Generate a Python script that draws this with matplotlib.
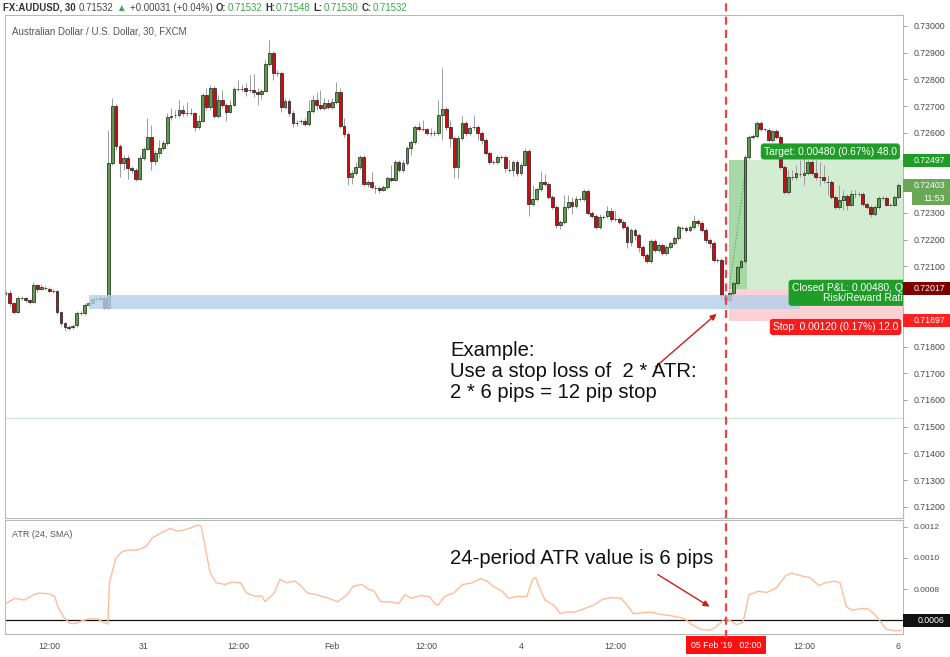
import matplotlib
matplotlib.use("Agg")
import matplotlib.pyplot as plt
import numpy as np
from matplotlib.lines import Line2D
from matplotlib.patches import Rectangle
from matplotlib.transforms import blended_transform_factory

plt.rcParams["font.family"] = ["Liberation Sans", "DejaVu Sans"]

W, H = 950, 657

# AUD/USD 30-minute candles, prices in points (1e-5)
opens = [
    72001, 72001, 71963, 71929, 71982, 71982, 71974, 71967, 72031, 72016,
    72019, 72016, 72008, 72008, 71929, 71888, 71873, 71873, 71881, 71926,
    71926, 71956, 71963, 71978, 71978, 71982, 71944, 72487, 72701, 72551,
    72487, 72506, 72468, 72461, 72427, 72506, 72540, 72585, 72495, 72525,
    72543, 72562, 72659, 72667, 72667, 72686, 72674, 72674, 72674, 72622,
    72644, 72742, 72697, 72768, 72663, 72723, 72704, 72678, 72704, 72764,
    72764, 72768, 72760, 72760, 72753, 72745, 72757, 72858, 72899, 72824,
    72824, 72697, 72719, 72674, 72637, 72644, 72644, 72633, 72682, 72723,
    72704, 72693, 72712, 72697, 72716, 72753, 72626, 72596, 72435, 72450,
    72472, 72510, 72409, 72416, 72394, 72394, 72386, 72397, 72431, 72424,
    72491, 72461, 72487, 72543, 72566, 72622, 72614, 72614, 72600, 72600,
    72600, 72667, 72689, 72622, 72581, 72472, 72581, 72637, 72600, 72622,
    72622, 72600, 72573, 72525, 72491, 72491, 72510, 72510, 72461, 72461,
    72491, 72450, 72480, 72532, 72334, 72352, 72390, 72416, 72409, 72360,
    72323, 72255, 72266, 72323, 72341, 72326, 72352, 72352, 72382, 72300,
    72289, 72248, 72285, 72289, 72308, 72278, 72278, 72266, 72248, 72191,
    72236, 72218, 72173, 72143, 72120, 72195, 72162, 72180, 72150, 72173,
    72188, 72206, 72244, 72244, 72236, 72248, 72270, 72263, 72236, 72199,
    72188, 72124, 72124, 71993, 71974, 72001, 72038, 72098, 72120, 72510,
    72585, 72588, 72637, 72614, 72611, 72573, 72607, 72585, 72472, 72379,
    72435, 72435, 72446, 72442, 72450, 72491, 72450, 72435, 72435, 72416,
    72416, 72360, 72323, 72349, 72364, 72330, 72371, 72371, 72371, 72334,
    72323, 72296, 72323, 72356, 72356, 72330, 72330, 72360,
]
highs = [
    72008, 72012, 71967, 71989, 71989, 71986, 71978, 72042, 72034, 72034,
    72027, 72023, 72016, 72012, 71933, 71892, 71881, 71884, 71933, 71933,
    71963, 71971, 71978, 71986, 71993, 71989, 72611, 72730, 72708, 72558,
    72517, 72517, 72476, 72468, 72517, 72547, 72656, 72629, 72536, 72573,
    72573, 72674, 72693, 72686, 72723, 72704, 72716, 72693, 72678, 72667,
    72749, 72768, 72779, 72775, 72742, 72760, 72712, 72723, 72772, 72798,
    72779, 72787, 72817, 72820, 72768, 72764, 72873, 72948, 72906, 72835,
    72832, 72730, 72727, 72686, 72648, 72652, 72656, 72723, 72742, 72753,
    72760, 72730, 72727, 72730, 72790, 72768, 72656, 72603, 72461, 72491,
    72517, 72517, 72424, 72454, 72405, 72401, 72405, 72439, 72480, 72498,
    72498, 72498, 72551, 72573, 72629, 72641, 72648, 72618, 72618, 72611,
    72723, 72843, 72697, 72648, 72588, 72592, 72663, 72644, 72626, 72667,
    72629, 72607, 72581, 72532, 72498, 72517, 72517, 72517, 72498, 72498,
    72498, 72487, 72543, 72540, 72405, 72394, 72457, 72446, 72416, 72367,
    72330, 72274, 72367, 72367, 72360, 72364, 72360, 72390, 72390, 72308,
    72296, 72296, 72293, 72326, 72319, 72311, 72285, 72274, 72255, 72244,
    72244, 72225, 72180, 72150, 72203, 72203, 72188, 72188, 72180, 72195,
    72214, 72255, 72251, 72251, 72255, 72293, 72278, 72270, 72244, 72206,
    72195, 72132, 72132, 72001, 72012, 72046, 72105, 72128, 72517, 72592,
    72596, 72644, 72644, 72618, 72618, 72611, 72614, 72592, 72480, 72461,
    72461, 72480, 72498, 72506, 72498, 72498, 72498, 72491, 72480, 72442,
    72424, 72367, 72405, 72386, 72371, 72386, 72386, 72379, 72379, 72341,
    72330, 72330, 72364, 72364, 72364, 72337, 72367, 72412,
]
lows = [
    71993, 71952, 71922, 71926, 71974, 71967, 71959, 71963, 72004, 72012,
    72012, 72004, 72001, 71922, 71877, 71862, 71862, 71866, 71873, 71918,
    71918, 71952, 71959, 71971, 71971, 71941, 71941, 72480, 72536, 72435,
    72461, 72427, 72450, 72420, 72424, 72498, 72536, 72461, 72480, 72506,
    72536, 72555, 72648, 72656, 72659, 72663, 72663, 72667, 72607, 72614,
    72641, 72686, 72686, 72656, 72656, 72693, 72644, 72674, 72701, 72757,
    72757, 72738, 72753, 72734, 72704, 72727, 72753, 72850, 72798, 72813,
    72678, 72689, 72663, 72622, 72626, 72633, 72626, 72626, 72674, 72686,
    72686, 72686, 72689, 72689, 72708, 72618, 72585, 72405, 72409, 72442,
    72465, 72401, 72397, 72390, 72375, 72375, 72382, 72390, 72416, 72420,
    72454, 72454, 72480, 72517, 72558, 72607, 72607, 72592, 72588, 72588,
    72592, 72573, 72611, 72547, 72431, 72431, 72573, 72588, 72592, 72611,
    72573, 72558, 72517, 72483, 72483, 72483, 72502, 72454, 72454, 72439,
    72439, 72442, 72476, 72289, 72326, 72345, 72382, 72401, 72352, 72315,
    72244, 72240, 72259, 72315, 72296, 72319, 72345, 72345, 72293, 72281,
    72240, 72240, 72278, 72281, 72266, 72270, 72259, 72240, 72169, 72176,
    72199, 72154, 72132, 72113, 72113, 72154, 72154, 72143, 72143, 72165,
    72180, 72199, 72236, 72229, 72229, 72240, 72251, 72229, 72188, 72169,
    72117, 72117, 71974, 71944, 71967, 71993, 72031, 72090, 72113, 72502,
    72577, 72581, 72607, 72607, 72566, 72566, 72577, 72465, 72371, 72371,
    72424, 72424, 72435, 72405, 72442, 72442, 72424, 72401, 72412, 72367,
    72352, 72315, 72315, 72311, 72311, 72326, 72356, 72364, 72326, 72315,
    72285, 72289, 72315, 72349, 72326, 72326, 72326, 72352,
]
closes = [
    72001, 71963, 71929, 71982, 71982, 71974, 71967, 72031, 72016, 72023,
    72019, 72008, 72008, 71929, 71888, 71873, 71870, 71877, 71926, 71926,
    71956, 71963, 71978, 71978, 71982, 71944, 72487, 72701, 72551, 72487,
    72506, 72468, 72461, 72427, 72506, 72540, 72585, 72495, 72525, 72543,
    72562, 72659, 72663, 72667, 72686, 72674, 72674, 72674, 72622, 72644,
    72742, 72697, 72768, 72663, 72723, 72704, 72678, 72704, 72764, 72764,
    72764, 72757, 72760, 72753, 72745, 72757, 72858, 72899, 72824, 72824,
    72697, 72719, 72674, 72637, 72637, 72644, 72633, 72682, 72723, 72704,
    72693, 72712, 72697, 72716, 72753, 72626, 72596, 72435, 72450, 72472,
    72510, 72409, 72416, 72397, 72394, 72386, 72397, 72431, 72424, 72491,
    72461, 72487, 72543, 72566, 72622, 72614, 72614, 72600, 72600, 72600,
    72667, 72689, 72622, 72581, 72472, 72581, 72637, 72600, 72618, 72622,
    72600, 72573, 72525, 72491, 72491, 72510, 72510, 72468, 72461, 72491,
    72450, 72480, 72532, 72334, 72352, 72390, 72416, 72409, 72360, 72323,
    72255, 72266, 72323, 72341, 72326, 72352, 72352, 72382, 72300, 72289,
    72248, 72285, 72285, 72308, 72278, 72278, 72266, 72248, 72191, 72236,
    72218, 72173, 72143, 72120, 72195, 72162, 72180, 72150, 72173, 72188,
    72206, 72248, 72244, 72236, 72248, 72270, 72263, 72236, 72199, 72188,
    72124, 72124, 71993, 71974, 72001, 72038, 72098, 72120, 72510, 72585,
    72588, 72637, 72614, 72614, 72573, 72607, 72585, 72472, 72379, 72435,
    72435, 72450, 72446, 72450, 72491, 72450, 72435, 72435, 72424, 72416,
    72360, 72323, 72349, 72364, 72330, 72371, 72371, 72371, 72334, 72323,
    72296, 72323, 72356, 72356, 72330, 72330, 72360, 72403,
]

# ATR(24, SMA) readings: candle position, value
atr_idx = [
    0, 2.3, 4.7, 7.0, 8.5, 10.9, 12.4, 13.2, 14.7, 16.3, 17.8, 19.4, 21.0, 23.3,
    24.8, 25.9, 26.3, 27.9, 29.5, 31.0, 33.3, 35.6, 37.2, 39.5, 41.8, 43.4, 44.9,
    47.3, 48.8, 49.6, 50.4, 51.9, 53.5, 55.8, 57.3, 59.7, 61.2, 63.5, 65.1, 65.9,
    68.2, 69.7, 71.3, 73.6, 75.1, 76.7, 79.0, 82.1, 84.4, 86.8, 88.3, 90.6, 92.2,
    93.7, 95.3, 97.6, 99.9, 101.5, 103.0, 105.4, 107.7, 109.2, 110.0, 111.5,
    113.9, 116.2, 118.5, 120.8, 122.4, 123.9, 126.3, 127.8, 130.1, 132.5, 134.0,
    134.8, 135.6, 137.1, 139.4, 141.0, 142.5, 144.8, 147.2, 149.5, 151.8, 154.1,
    156.5, 158.0, 159.6, 161.9, 164.2, 166.5, 168.9, 171.2, 172.7, 174.3, 176.6,
    178.9, 180.5, 182.8, 184.3, 185.9, 187.5, 189.0, 191.3, 193.6, 196.0, 198.3,
    199.8, 202.2, 204.5, 206.8, 208.4, 210.7, 212.2, 213.8, 215.3, 217.6, 219.2,
    220.8, 222.3, 223.9, 226.2, 227.7,
]
atr_val = [
    0.000707, 0.000740, 0.000729, 0.000763, 0.000774, 0.000769, 0.000752,
    0.000685, 0.000618, 0.000578, 0.000578, 0.000596, 0.000607, 0.000607,
    0.000585, 0.000574, 0.000840, 0.000996, 0.001040, 0.001051, 0.001051,
    0.001073, 0.001129, 0.001162, 0.001191, 0.001173, 0.001178, 0.001196,
    0.001213, 0.001207, 0.001107, 0.000907, 0.000840, 0.000829, 0.000845,
    0.000840, 0.000774, 0.000752, 0.000756, 0.000718, 0.000774, 0.000863,
    0.000840, 0.000851, 0.000818, 0.000774, 0.000763, 0.000740, 0.000718,
    0.000763, 0.000818, 0.000829, 0.000800, 0.000785, 0.000718, 0.000718,
    0.000707, 0.000763, 0.000740, 0.000758, 0.000752, 0.000703, 0.000696,
    0.000752, 0.000774, 0.000829, 0.000840, 0.000867, 0.000851, 0.000818,
    0.000785, 0.000740, 0.000752, 0.000752, 0.000863, 0.000874, 0.000818,
    0.000729, 0.000696, 0.000641, 0.000652, 0.000652, 0.000674, 0.000696,
    0.000734, 0.000745, 0.000740, 0.000696, 0.000641, 0.000647, 0.000652,
    0.000636, 0.000629, 0.000618, 0.000607, 0.000574, 0.000541, 0.000534,
    0.000552, 0.000607, 0.000596, 0.000570, 0.000585, 0.000763, 0.000785,
    0.000778, 0.000807, 0.000885, 0.000903, 0.000885, 0.000874, 0.000823,
    0.000840, 0.000851, 0.000840, 0.000685, 0.000663, 0.000674, 0.000674,
    0.000641, 0.000596, 0.000541, 0.000530, 0.000534,
]

# time axis (candle positions of the date labels)
tick_idx = [11, 35, 59, 83, 107, 131, 155, 203, 227]
tick_lab = ["12:00", "31", "12:00", "Feb", "12:00", "4", "12:00", "12:00", "6"]
marker_idx = 183.2
marker_lab = "05 Feb '19   02:00"

# price scale labels (those under coloured tags are left blank)
price_ticks = [0.712, 0.713, 0.714, 0.715, 0.716, 0.717, 0.718, 0.719, 0.720, 0.721,
               0.722, 0.723, 0.724, 0.725, 0.726, 0.727, 0.728, 0.729, 0.730]
hidden_ticks = [0.719, 0.720, 0.724, 0.725]

# position tool / levels
entry_idx = 184
entry, target, stop = 0.72017, 0.72497, 0.71897
last_price = 0.72403
atr_line = 0.0006
zone_idx = (21, 202)
zone_lo, zone_hi = 0.71941, 0.71993
header_price = 0.71532

header = [
    ("FX:AUDUSD, 30", "#333333", "bold", 3), ("0.71532", "#444444", "normal", 3),
    ("\u25b2", "#3aa845", "normal", 4), ("+0.00031 (+0.04%)", "#444444", "normal", 3),
    ("O:", "#333333", "bold", 1), ("0.71532", "#3aa845", "normal", 3),
    ("H:", "#333333", "bold", 1), ("0.71548", "#3aa845", "normal", 3),
    ("L:", "#333333", "bold", 1), ("0.71530", "#3aa845", "normal", 3),
    ("C:", "#333333", "bold", 1), ("0.71532", "#3aa845", "normal", 0),
]

GREEN = "#5a9e4a"
RED = "#d3090f"
TAG_GREEN = "#1f9d28"
GRID_GRAY = "#b9b9b9"
TXT = "#4a4a4a"

o = np.array(opens) / 1e5
hi = np.array(highs) / 1e5
lo = np.array(lows) / 1e5
c = np.array(closes) / 1e5
idx = np.arange(len(c))

fig = plt.figure(figsize=(W / 100, H / 100), dpi=100)


def rect(x0, y0, x1, y1):
    return [x0 / W, 1 - y1 / H, (x1 - x0) / W, (y1 - y0) / H]


ax = fig.add_axes(rect(5, 15, 903, 518))
atr_ax = fig.add_axes(rect(5, 520, 903, 634), sharex=ax)
ax.set_xlim(-0.25, 228.2)
ax.set_ylim(0.71158, 0.73041)
atr_ax.set_ylim(0.00051, 0.001245)

for a in (ax, atr_ax):
    for s in a.spines.values():
        s.set_color(GRID_GRAY)
        s.set_linewidth(0.8)

# candles
up = c >= o
ax.vlines(idx, lo, hi, color="#9b9b9b", lw=0.7, zorder=2)
ax.bar(idx, c - o, bottom=o, width=0.72, color=np.where(up, GREEN, RED),
       edgecolor="#1b1b1b", linewidth=0.5, zorder=3)

# position tool
ax.add_patch(Rectangle((entry_idx, entry), 240 - entry_idx, target - entry,
                       fc="#d2edd2", ec="none", zorder=1))
ax.add_patch(Rectangle((entry_idx, entry), 4.5, target - entry,
                       fc="#a6d9a6", ec="none", zorder=1.1))
ax.add_patch(Rectangle((entry_idx, stop), 240 - entry_idx, entry - stop,
                       fc="#fcd0d4", ec="none", zorder=1))
ax.plot([entry_idx, entry_idx + 4.5], [entry, target], ls=":", color="#6f8f6f",
        lw=0.8, zorder=1.2)
# support zone
ax.add_patch(Rectangle((zone_idx[0], zone_lo), zone_idx[1] - zone_idx[0],
                       zone_hi - zone_lo, fc="#b3cfec", ec="none", alpha=0.8, zorder=4))
ax.axhline(header_price, color="#cde8cd", lw=0.9, zorder=1)

box = dict(boxstyle="round,pad=0.3,rounding_size=0.3", ec="none")
lab_kw = dict(color="white", fontsize=7.4, zorder=6, clip_on=True)
edge_tr = blended_transform_factory(ax.transAxes, ax.transData)
ax.text(192.8, 0.72530, "Target: 0.00480 (0.67%) 48.0", va="center",
        bbox=dict(fc=TAG_GREEN, **box), **lab_kw)
ax.text(0.9995, 0.72001, "Closed P&L: 0.00480, Q\nRisk/Reward Rati", transform=edge_tr,
        ha="right", va="center", multialignment="right", linespacing=1.0,
        bbox=dict(fc=TAG_GREEN, **box), **lab_kw)
ax.text(195.1, 0.71873, "Stop: 0.00120 (0.17%) 12.0", va="center",
        bbox=dict(fc="#f41c1c", **box), **lab_kw)

# annotations
ann = dict(fontsize=14.6, color="#111111", va="baseline", zorder=7)
ax.text(113, 0.71765, "Example:", **ann)
ax.text(113, 0.71686, "Use a stop loss of  2 * ATR:", **ann)
ax.text(113, 0.71608, "2 * 6 pips = 12 pip stop", **ann)
arrow = dict(arrowstyle="-|>", color="#cc1d1d", lw=1.0, mutation_scale=9)
ax.annotate("", xy=(181.3, 0.71929), xytext=(164.7, 0.71717), arrowprops=arrow)

atr_ax.plot(atr_idx, atr_val, color="#ffbd97", lw=1.0, zorder=3)
atr_ax.axhline(atr_line, color="#111111", lw=0.9, zorder=2)
atr_ax.text(113, 0.000961, "24-period ATR value is 6 pips", **ann)
atr_ax.annotate("", xy=(179.6, 0.000677), xytext=(165.2, 0.000903), arrowprops=arrow)
atr_ax.text(0.008, 0.87, "ATR (24, SMA)", transform=atr_ax.transAxes, fontsize=6.5,
            color="#555555", va="center")

# axes ticks
ax.yaxis.tick_right()
ax.set_yticks(price_ticks)
ax.set_yticklabels(["" if any(abs(t - h) < 1e-9 for h in hidden_ticks) else f"{t:.5f}"
                    for t in price_ticks])
ax.tick_params(axis="y", length=3, width=0.6, color="#8a8a8a", labelsize=6.3,
               labelcolor=TXT, pad=5)
ax.tick_params(axis="x", bottom=False, labelbottom=False)

atr_ax.yaxis.tick_right()
atr_ax.set_yticks([0.0008, 0.0010, 0.0012])
atr_ax.yaxis.set_major_formatter(plt.FuncFormatter(lambda v, p: f"{v:.4f}"))
atr_ax.tick_params(axis="y", length=3, width=0.6, color="#8a8a8a", labelsize=6.0,
                   labelcolor=TXT, pad=5)
atr_ax.set_xticks(tick_idx, tick_lab)
atr_ax.tick_params(axis="x", length=0, labelsize=6.3, labelcolor=TXT, pad=6)


def price_tag(a, y, text, fc, per_px, x0=0, h=13, tc="white"):
    tr = blended_transform_factory(a.transAxes, a.transData)
    span = a.get_position().width * W
    a.add_patch(Rectangle((1 + x0 / span, y - h / 2 * per_px), (47 - x0) / span,
                          h * per_px, transform=tr, fc=fc, ec="none",
                          clip_on=False, zorder=8))
    a.text(1 + 42 / span, y, text, transform=tr, ha="right", va="center",
           color=tc, fontsize=6.3, clip_on=False, zorder=9)


main_px = (0.73041 - 0.71158) / 503
atr_px = (0.001245 - 0.00051) / 114
price_tag(ax, target, "0.72497", TAG_GREEN, main_px)
price_tag(ax, last_price, "0.72403", "#6aa757", main_px)
price_tag(ax, last_price - 13 * main_px, "11:53", "#6aa757", main_px, x0=9)
price_tag(ax, entry, "0.72017", "#7d0000", main_px)
price_tag(ax, stop, "0.71897", "#ff2020", main_px)
price_tag(atr_ax, atr_line, "0.0006", "#111111", atr_px)

# time marker
atr_ax.text(marker_idx, -0.097, marker_lab, transform=blended_transform_factory(
    atr_ax.transData, atr_ax.transAxes), ha="center", va="center", color="white",
    fontsize=6.3, zorder=9, clip_on=False,
    bbox=dict(boxstyle="square,pad=0.55", fc="#ff1010", ec="none"))
xf = fig.transFigure.inverted().transform(ax.transData.transform((marker_idx, entry)))[0]
fig.add_artist(Line2D([xf, xf], [1 - 638 / H, 1.0], color="#f44141", lw=1.6,
                      ls=(0, (3.6, 2.4)), zorder=8))

# header, pieces laid out one after another
renderer = fig.canvas.get_renderer()
hx = 3
for s, col, wt, gap in header:
    t = fig.text(hx / W, 1 - 8 / H, s, color=col, fontweight=wt, fontsize=6.9,
                 va="center")
    hx = t.get_window_extent(renderer).x1 + gap
fig.text(12 / W, 1 - 31 / H, "Australian Dollar / U.S. Dollar, 30, FXCM",
         color="#555555", fontsize=7.0, va="center")

fig.savefig("out.png", dpi=100)
